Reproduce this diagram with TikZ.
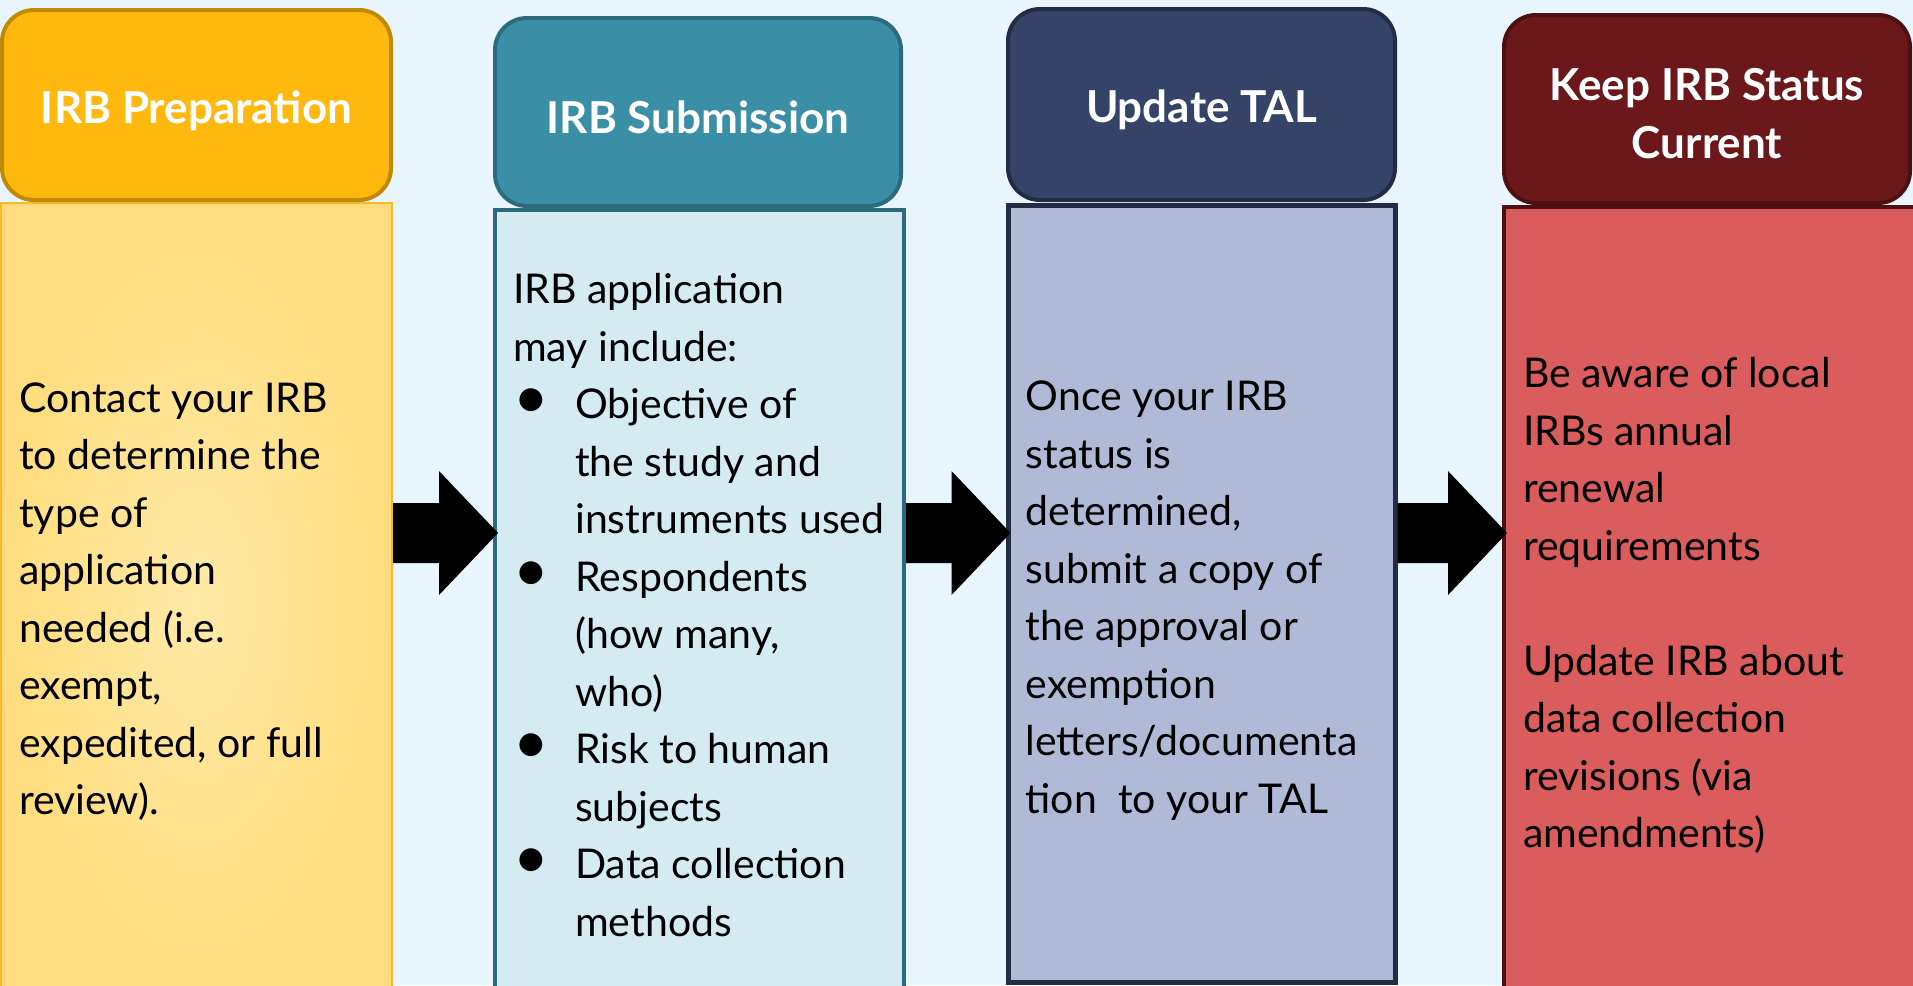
\documentclass[tikz,border=0pt]{standalone}
\usepackage{fontspec}
\usepackage{graphicx}
\setmainfont{Lato}
\usetikzlibrary{calc}

\definecolor{bgblue}{HTML}{E9F5FD}
\definecolor{prepfill}{HTML}{FFB80D}
\definecolor{prepline}{HTML}{C08A04}
\definecolor{prepin}{HTML}{FFE9A6}
\definecolor{prepout}{HTML}{FFDD7E}
\definecolor{prepedge}{HTML}{FBB927}
\definecolor{subfill}{HTML}{3A8FA6}
\definecolor{subline}{HTML}{2B6B7D}
\definecolor{subpanel}{HTML}{D4EBF2}
\definecolor{talfill}{HTML}{354369}
\definecolor{talline}{HTML}{232B45}
\definecolor{talpanel}{HTML}{B0B9D6}
\definecolor{keepfill}{HTML}{6C181B}
\definecolor{keepline}{HTML}{4C1013}
\definecolor{keeppanel}{HTML}{DA5C5C}

\newcommand{\bulitem}{\makebox[62pt][l]{\scalebox{1.5}{\textbullet}}}
\newcommand{\bulcont}{\hspace*{62pt}}

\newcommand{\flowarrow}[2]{%
  \fill let \p1=(#1.east |- arrowrow), \p2=(#2.west |- arrowrow) in
    (\x1,\y1+30pt) -- (\x2-54pt,\y1+30pt) -- (\x2-54pt,\y1+62pt) -- (\x2+5pt,\y1)
    -- (\x2-54pt,\y1-62pt) -- (\x2-54pt,\y1-30pt) -- (\x1,\y1-30pt) -- cycle ;}

\begin{document}
\begin{tikzpicture}[x=1pt, y=-1pt,
    head/.style={draw, line width=4pt, rounded corners=32pt},
    headtext/.style={text=white, align=center, inner sep=0pt,
      font=\fontsize{44}{58}\selectfont\bfseries},
    panel/.style={draw, line width=4pt},
    paneltext/.style={anchor=west, align=left, inner sep=0pt,
      font=\fontsize{41}{57.5}\selectfont}]

  \fill[bgblue] (0,0) rectangle (1913,985) ;
  \useasboundingbox (0,0) rectangle (1913,985) ;

  \coordinate (arrowrow) at (0,533) ;

  \node[panel, line width=2pt, draw=prepedge, inner color=prepin, outer color=prepout,
        minimum width=391pt, minimum height=797pt] (prepbody) at (196.5,601.5) {} ;
  \node[panel, draw=subline, fill=subpanel,
        minimum width=409pt, minimum height=790pt]  (subbody)  at (699.5,605)   {} ;
  \node[panel, line width=5pt, draw=talline, fill=talpanel,
        minimum width=387pt, minimum height=777pt]  (talbody)  at (1201.5,593.5) {} ;
  \node[panel, draw=keepline, fill=keeppanel,
        minimum width=426pt, minimum height=793pt]  (keepbody) at (1717,603.5)  {} ;

  \node[head, fill=prepfill, draw=prepline,
        minimum width=389pt, minimum height=190pt] (prephead) at (196.5,105)   {} ;
  \node[head, fill=subfill,  draw=subline,
        minimum width=406pt, minimum height=188pt] (subhead)  at (698,112)     {} ;
  \node[head, fill=talfill,  draw=talline,
        minimum width=387pt, minimum height=191pt] (talhead)  at (1201.5,104.5) {} ;
  \node[head, fill=keepfill, draw=keepline,
        minimum width=406pt, minimum height=188pt] (keephead) at (1707,109)    {} ;

  \node[headtext] (preptitle) at ([yshift=-6pt]prephead.center) {IRB Preparation} ;
  \node[headtext] (subtitle)  at ([yshift=-5pt]subhead.center)  {IRB Submission} ;
  \node[headtext] (taltitle)  at ([yshift=-5pt]talhead.center)  {Update TAL} ;
  \node[headtext] (keeptitle) at ([yshift=-5pt]keephead.center) {Keep IRB Status\\Current} ;

  \node[paneltext] (preptext) at ([xshift=19pt]prepbody.west)
    {Contact your IRB\\to determine the\\type of\\application\\needed (i.e.\\exempt,\\expedited, or full\\review).} ;
  \node[paneltext] (subtext) at ([xshift=20pt]subbody.west)
    {IRB application\\may include:\\
     \bulitem Objective of\\\bulcont the study and\\\bulcont instruments used\\
     \bulitem Respondents\\\bulcont (how many,\\\bulcont who)\\
     \bulitem Risk to human\\\bulcont subjects\\
     \bulitem Data collection\\\bulcont methods} ;
  \node[paneltext] (taltext) at ([xshift=20pt,yshift=-7pt]talbody.west)
    {Once your IRB\\status is\\determined,\\submit a copy of\\the approval or\\exemption\\letters/documenta\\tion~ to your TAL} ;
  \node[paneltext] (keeptext) at ([xshift=21pt,yshift=-2pt]keepbody.west)
    {Be aware of local\\IRBs annual\\renewal\\requirements\\[57.5pt]Update IRB about\\data collection\\revisions (via\\amendments)} ;

  \flowarrow{prepbody}{subbody}
  \flowarrow{subbody}{talbody}
  \flowarrow{talbody}{keepbody}

\end{tikzpicture}
\end{document}
